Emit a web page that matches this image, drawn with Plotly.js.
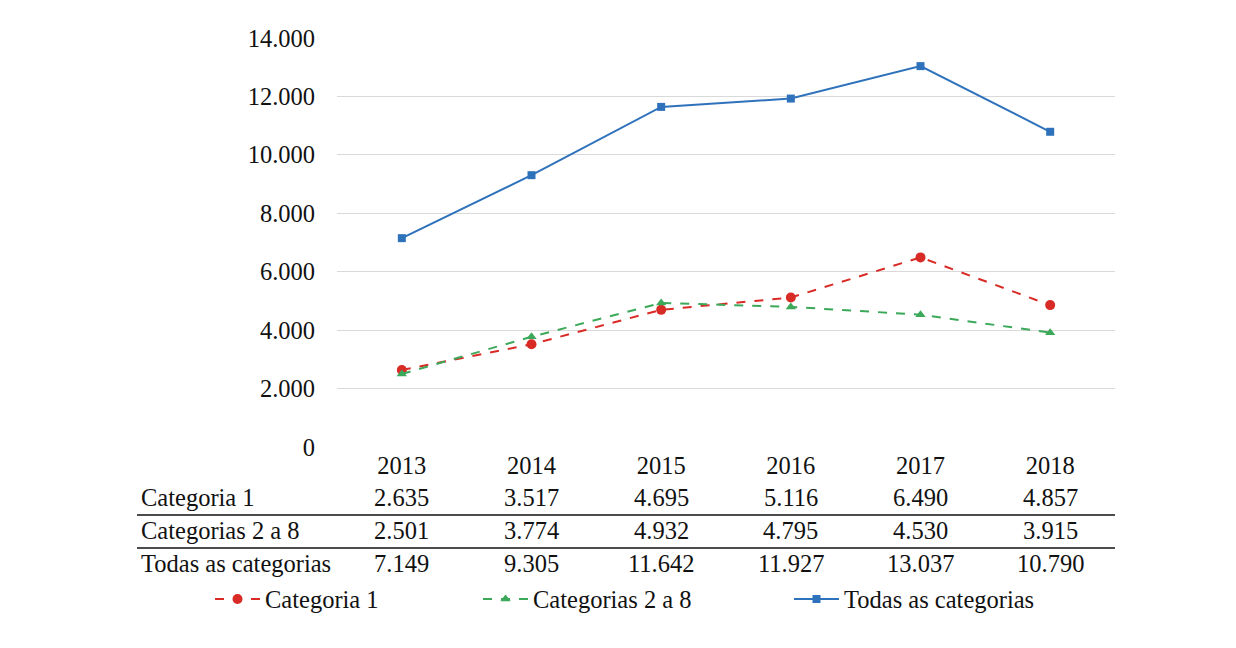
<!DOCTYPE html>
<html>
<head>
<meta charset="utf-8">
<script src="https://cdn.plot.ly/plotly-3.0.1.min.js"></script>
<style>html,body{margin:0;padding:0;background:#fff;}#chart{width:1236px;height:648px;}</style>
</head>
<body>
<div id="chart"></div>
<script>
var years = ['2013', '2014', '2015', '2016', '2017', '2018'];
var categoria1 = [2635, 3517, 4695, 5116, 6490, 4857];
var categorias2a8 = [2501, 3774, 4932, 4795, 4530, 3915];
var todas = [7149, 9305, 11642, 11927, 13037, 10790];
var seriesNames = ['Categoria 1', 'Categorias 2 a 8', 'Todas as categorias'];
var yTicks = [0, 2000, 4000, 6000, 8000, 10000, 12000, 14000];

function fmt(v) {
  var s = String(Math.round(v));
  return s.replace(/\B(?=(\d{3})+(?!\d))/g, '.');
}

var FONT = 'Liberation Serif, Times New Roman, serif';
var FS = 24.5;
var RED = '#D92B26', GREEN = '#3BA85A', BLUE = '#2F72BC';

var traces = [
  {x: years, y: categoria1, name: seriesNames[0], type: 'scatter', mode: 'lines+markers',
   line: {color: RED, width: 2, dash: 'dash'}, marker: {symbol: 'circle', size: 10, color: RED}, legend: 'legend'},
  {x: years, y: categorias2a8, name: seriesNames[1], type: 'scatter', mode: 'lines+markers',
   line: {color: GREEN, width: 2, dash: 'dash'}, marker: {symbol: 'triangle-up', size: 9, color: GREEN}, legend: 'legend2'},
  {x: years, y: todas, name: seriesNames[2], type: 'scatter', mode: 'lines+markers',
   line: {color: BLUE, width: 2}, marker: {symbol: 'square', size: 8, color: BLUE}, legend: 'legend3'}
];

var L = 337, R = 1115, T = 38, B = 447;
function py(px) { return (B - px) / (B - T); }
function px2paper(px) { return (px - L) / (R - L); }

var rows = [
  {label: seriesNames[0], data: categoria1, y: 497},
  {label: seriesNames[1], data: categorias2a8, y: 530},
  {label: seriesNames[2], data: todas, y: 563}
];
var annotations = [];
rows.forEach(function (r) {
  annotations.push({xref: 'paper', yref: 'paper', x: px2paper(139), y: py(r.y), xanchor: 'left', yanchor: 'middle',
    text: r.label, showarrow: false, font: {family: FONT, size: FS, color: '#111'}});
  r.data.forEach(function (v, i) {
    annotations.push({xref: 'x', yref: 'paper', x: i, y: py(r.y), xanchor: 'center', yanchor: 'middle',
      text: fmt(v), showarrow: false, font: {family: FONT, size: FS, color: '#111'}});
  });
});

var shapes = [515, 548].map(function (yy) {
  return {type: 'line', xref: 'paper', yref: 'paper', x0: px2paper(137), x1: 1, y0: py(yy), y1: py(yy),
    line: {color: '#111', width: 1.3}};
});

function leg(xpx) {
  return {orientation: 'h', yanchor: 'middle', xanchor: 'left', bgcolor: 'rgba(0,0,0,0)',
    font: {family: FONT, size: FS, color: '#111'}, borderwidth: 0, itemwidth: 45,
    x: px2paper(xpx), y: py(599)};
}

var layout = {
  width: 1236, height: 648,
  margin: {l: L, r: 1236 - R, t: T, b: 648 - B, pad: 0},
  paper_bgcolor: '#fff', plot_bgcolor: '#fff',
  font: {family: FONT, size: FS, color: '#111'},
  showlegend: true,
  legend: leg(210), legend2: leg(478), legend3: leg(789),
  xaxis: {type: 'category', range: [-0.5, 5.5], showgrid: false, zeroline: false, showline: false,
    ticks: '', tickfont: {family: FONT, size: FS, color: '#111'}, ticklabelstandoff: 1, fixedrange: true},
  yaxis: {range: [0, 14000], tickvals: yTicks, ticktext: yTicks.map(fmt), showgrid: true, gridcolor: '#D9D9D9', gridwidth: 1.2,
    zeroline: false, showline: false, ticks: '', tickfont: {family: FONT, size: FS, color: '#111'},
    ticklabelstandoff: 21, fixedrange: true},
  annotations: annotations,
  shapes: shapes
};

Plotly.newPlot('chart', traces, layout, {displayModeBar: false, staticPlot: true});
</script>
</body>
</html>
